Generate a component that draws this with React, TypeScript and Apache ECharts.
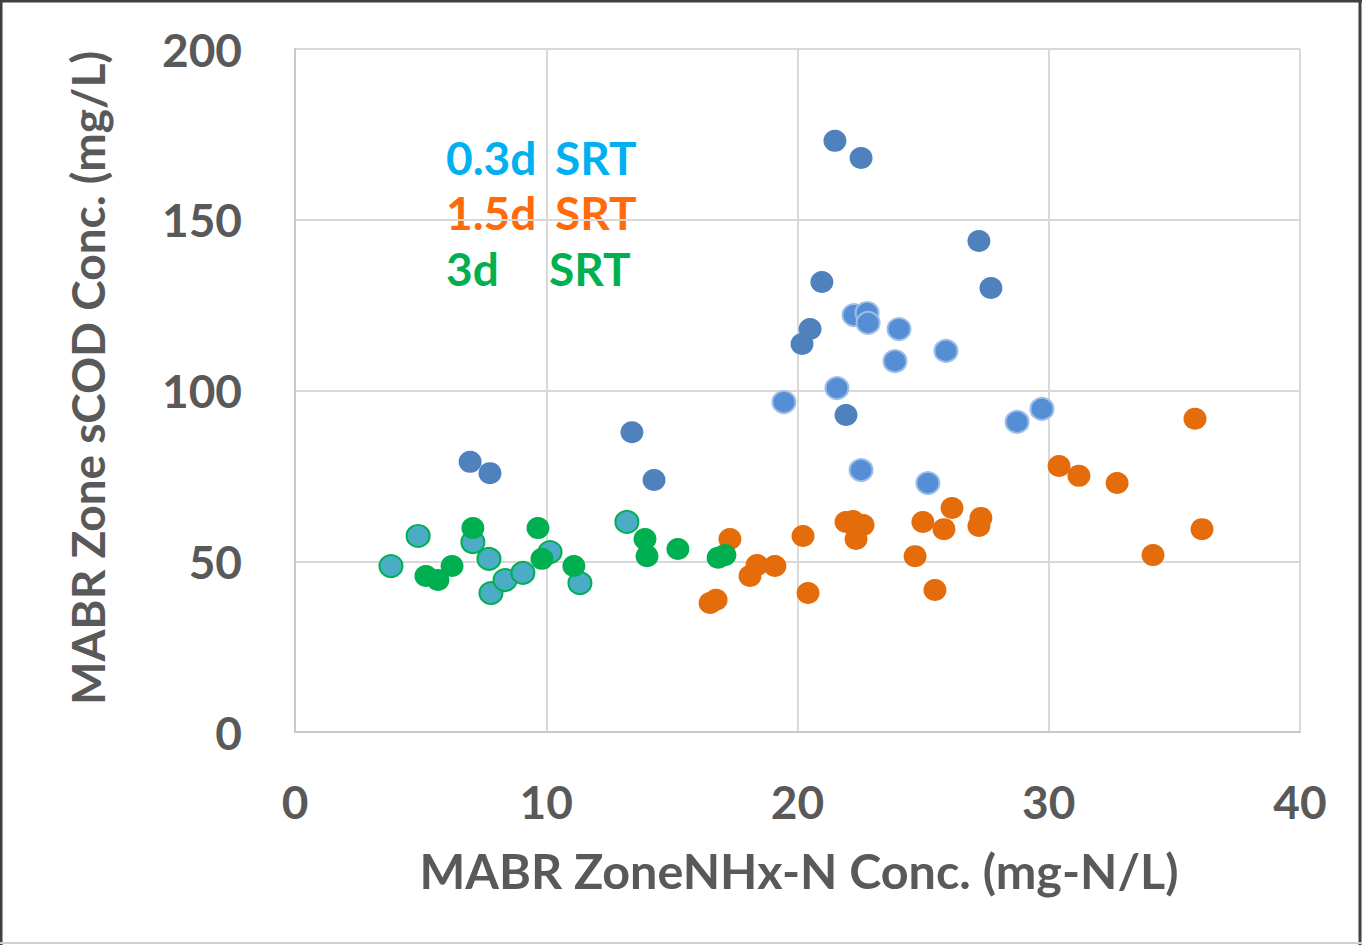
import React, { useEffect, useRef } from "react";
import * as echarts from "echarts";

// NHx-N (x, mg-N/L) vs sCOD (y, mg/L) for each marker group
const darkBlueX = [21.49, 22.53, 27.22, 27.7, 20.97, 20.5, 20.18, 21.93, 13.41, 14.29, 6.97, 7.76];
const darkBlueY = [173.1, 168.1, 143.8, 130.0, 131.8, 118.0, 113.6, 92.8, 87.8, 73.8, 79.1, 75.8];

const lightBlueX = [22.25, 22.77, 22.81, 24.04, 23.88, 25.91, 21.57, 19.46, 22.53, 25.19, 28.74, 29.73];
const lightBlueY = [122.1, 122.7, 119.8, 118.0, 108.6, 111.6, 100.7, 96.6, 76.7, 72.9, 90.8, 94.6];

const orangeX = [16.52, 16.76, 17.31, 18.11, 18.39, 19.1, 20.22, 20.42, 21.93, 22.21, 22.61, 22.33, 24.68, 24.99, 25.47, 25.83, 26.15, 27.22, 27.3, 30.41, 31.2, 32.72, 34.15, 35.82, 36.1];
const orangeY = [37.8, 38.7, 56.5, 45.7, 48.9, 48.6, 57.4, 40.7, 61.5, 61.8, 60.6, 56.5, 51.5, 61.5, 41.6, 59.4, 65.6, 60.3, 62.7, 77.9, 75.0, 72.9, 51.8, 91.7, 59.4];

const tealX = [3.82, 4.9, 7.08, 7.72, 7.8, 8.36, 9.07, 10.15, 11.34, 13.21];
const tealY = [48.6, 57.4, 55.6, 50.7, 40.7, 44.5, 46.6, 52.7, 43.6, 61.5];

const greenX = [5.21, 5.69, 6.25, 7.08, 9.67, 9.83, 11.1, 13.93, 14.01, 15.24, 16.84, 17.11];
const greenY = [45.7, 44.5, 48.6, 59.7, 59.7, 50.7, 48.6, 56.5, 51.5, 53.6, 51.0, 51.8];

const xTicks = [0, 10, 20, 30, 40];
const yTicks = [0, 50, 100, 150, 200];

const xTitle = "MABR ZoneNHx-N Conc. (mg-N/L)";
const yTitle = "MABR Zone sCOD Conc. (mg/L)";

const legendRows = [
  { left: "0.3d", right: "SRT", color: "#00B0F0" },
  { left: "1.5d", right: "SRT", color: "#FF6A0A" },
  { left: "3d", right: "SRT", color: "#00B050" },
];

const FONT = "Lato, 'Open Sans', sans-serif";
const GREY = "#595959";

function pairs(xs: number[], ys: number[]) {
  return xs.map((x, i) => [x, ys[i]]);
}

export default function App() {
  const ref = useRef<HTMLDivElement>(null);

  useEffect(() => {
    if (!ref.current) return;
    const chart = echarts.init(ref.current, null, { renderer: "svg" });

    const marker = (color: string, border: string, bw: number) => ({
      type: "scatter" as const,
      symbol: "circle",
      symbolSize: [23, 22],
      itemStyle: { color, borderColor: border, borderWidth: bw, opacity: 1 },
    });

    const legendX = [446, 555, 549];
    const legendY = [157, 212, 268];

    chart.setOption({
      animation: false,
      backgroundColor: "#ffffff",
      grid: { left: 295, right: 62, top: 49, bottom: 213, show: false },
      xAxis: {
        type: "value",
        min: xTicks[0],
        max: xTicks[xTicks.length - 1],
        interval: 10,
        axisLine: { show: true, onZero: false, lineStyle: { color: "#c8c8c8", width: 2 } },
        axisTick: { show: false },
        splitLine: { show: true, lineStyle: { color: "#d9d9d9", width: 2 } },
        axisLabel: {
          color: GREY,
          fontFamily: FONT,
          fontWeight: "bold",
          fontSize: 46,
          margin: 46,
        },
      },
      yAxis: {
        type: "value",
        min: yTicks[0],
        max: yTicks[yTicks.length - 1],
        interval: 50,
        axisLine: { show: true, lineStyle: { color: "#c8c8c8", width: 2 } },
        axisTick: { show: false },
        splitLine: { show: true, lineStyle: { color: "#d9d9d9", width: 2 } },
        axisLabel: {
          color: GREY,
          fontFamily: FONT,
          fontWeight: "bold",
          fontSize: 46,
          margin: 53,
        },
      },
      series: [
        { ...marker("#4F81BD", "#4F81BD", 0), data: pairs(darkBlueX, darkBlueY) },
        { ...marker("#558ED5", "#9DBEE8", 2), data: pairs(lightBlueX, lightBlueY) },
        { ...marker("#E46C0A", "#E46C0A", 0), data: pairs(orangeX, orangeY) },
        { ...marker("#4BACC6", "#00B050", 2), data: pairs(tealX, tealY) },
        { ...marker("#00B050", "#00B050", 0), data: pairs(greenX, greenY) },
      ],
      graphic: [
        // outer frame
        { type: "line", shape: { x1: 1, y1: 0, x2: 1, y2: 945 }, style: { stroke: "#404040", lineWidth: 3 } },
        { type: "line", shape: { x1: 0, y1: 1, x2: 1362, y2: 1 }, style: { stroke: "#404040", lineWidth: 3 } },
        { type: "line", shape: { x1: 1360, y1: 0, x2: 1360, y2: 945 }, style: { stroke: "#404040", lineWidth: 3 } },
        { type: "line", shape: { x1: 0, y1: 943, x2: 1362, y2: 943 }, style: { stroke: "#d0d0d0", lineWidth: 2 } },
        // axis titles
        {
          type: "text",
          x: 799,
          y: 870,
          style: {
            text: xTitle,
            fill: GREY,
            font: `bold 48.5px ${FONT}`,
            align: "center",
            verticalAlign: "middle",
          },
        },
        {
          type: "text",
          x: 87,
          y: 378,
          rotation: Math.PI / 2,
          style: {
            text: yTitle,
            fill: GREY,
            font: `bold 46px ${FONT}`,
            align: "center",
            verticalAlign: "middle",
          },
        },
        // group labels
        ...legendRows.flatMap((r, i) => [
          {
            type: "text",
            x: legendX[0],
            y: legendY[i],
            style: { text: r.left, fill: r.color, font: `bold 46px ${FONT}`, verticalAlign: "middle" },
          },
          {
            type: "text",
            x: i === 2 ? legendX[2] : legendX[1],
            y: legendY[i],
            style: { text: r.right, fill: r.color, font: `bold 46px ${FONT}`, verticalAlign: "middle" },
          },
        ]),
      ],
    });

    return () => chart.dispose();
  }, []);

  return (
    <div
      ref={ref}
      style={{ position: "absolute", left: 0, top: 0, width: 1362, height: 945 }}
    />
  );
}
